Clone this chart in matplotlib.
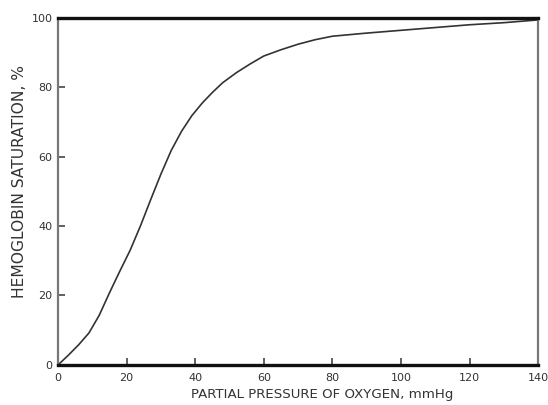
import matplotlib
matplotlib.use("Agg")
import matplotlib.pyplot as plt

# oxygen-hemoglobin dissociation curve
po2 = [0, 3, 6, 9, 12, 15, 18, 21, 24, 27, 30, 33, 36, 39, 42, 45, 48, 52, 56, 60,
       65, 70, 75, 80, 90, 100, 110, 120, 130, 140]
saturation = [0, 2.8, 5.8, 9.2, 14.3, 20.8, 27, 33, 40, 47.6, 55, 61.8, 67.3, 71.8, 75.4, 78.5,
              81.3, 84.2, 86.7, 89.0, 90.8, 92.4, 93.7, 94.7, 95.6, 96.4, 97.2, 98.0, 98.6, 99.4]

x_ticks = [0, 20, 40, 60, 80, 100, 120, 140]
y_ticks = [0, 20, 40, 60, 80, 100]

plt.rcParams['font.family'] = ['DejaVu Sans']

fig = plt.figure(figsize=(5.48, 4.05), dpi=100)
ax = fig.add_axes([0.106, 0.099, 0.876, 0.857])

ax.plot(po2, saturation, color="#333333", lw=1.2)

ax.set_xlim(0, 140)
ax.set_ylim(0, 100)
ax.set_xticks(x_ticks)
ax.set_yticks(y_ticks)
ax.tick_params(direction="in", length=5, width=1.2, color="#444444",
               labelsize=8, labelcolor="#333333")
ax.tick_params(axis="x", pad=6)
ax.tick_params(axis="y", pad=4)

ax.spines["top"].set_linewidth(2.4)
ax.spines["top"].set_color("#111111")
ax.spines["bottom"].set_linewidth(2.4)
ax.spines["bottom"].set_color("#111111")
for side in ["left", "right"]:
    ax.spines[side].set_linewidth(1.6)
    ax.spines[side].set_color("#777777")

ax.set_xlabel("PARTIAL PRESSURE OF OXYGEN, mmHg", fontsize=9.6, color="#333333")
ax.set_ylabel("HEMOGLOBIN SATURATION, %", fontsize=11.2, color="#333333")
ax.xaxis.set_label_coords(0.55, -0.067)
ax.yaxis.set_label_coords(-0.064, 0.527)

fig.savefig("out.png", dpi=100)
